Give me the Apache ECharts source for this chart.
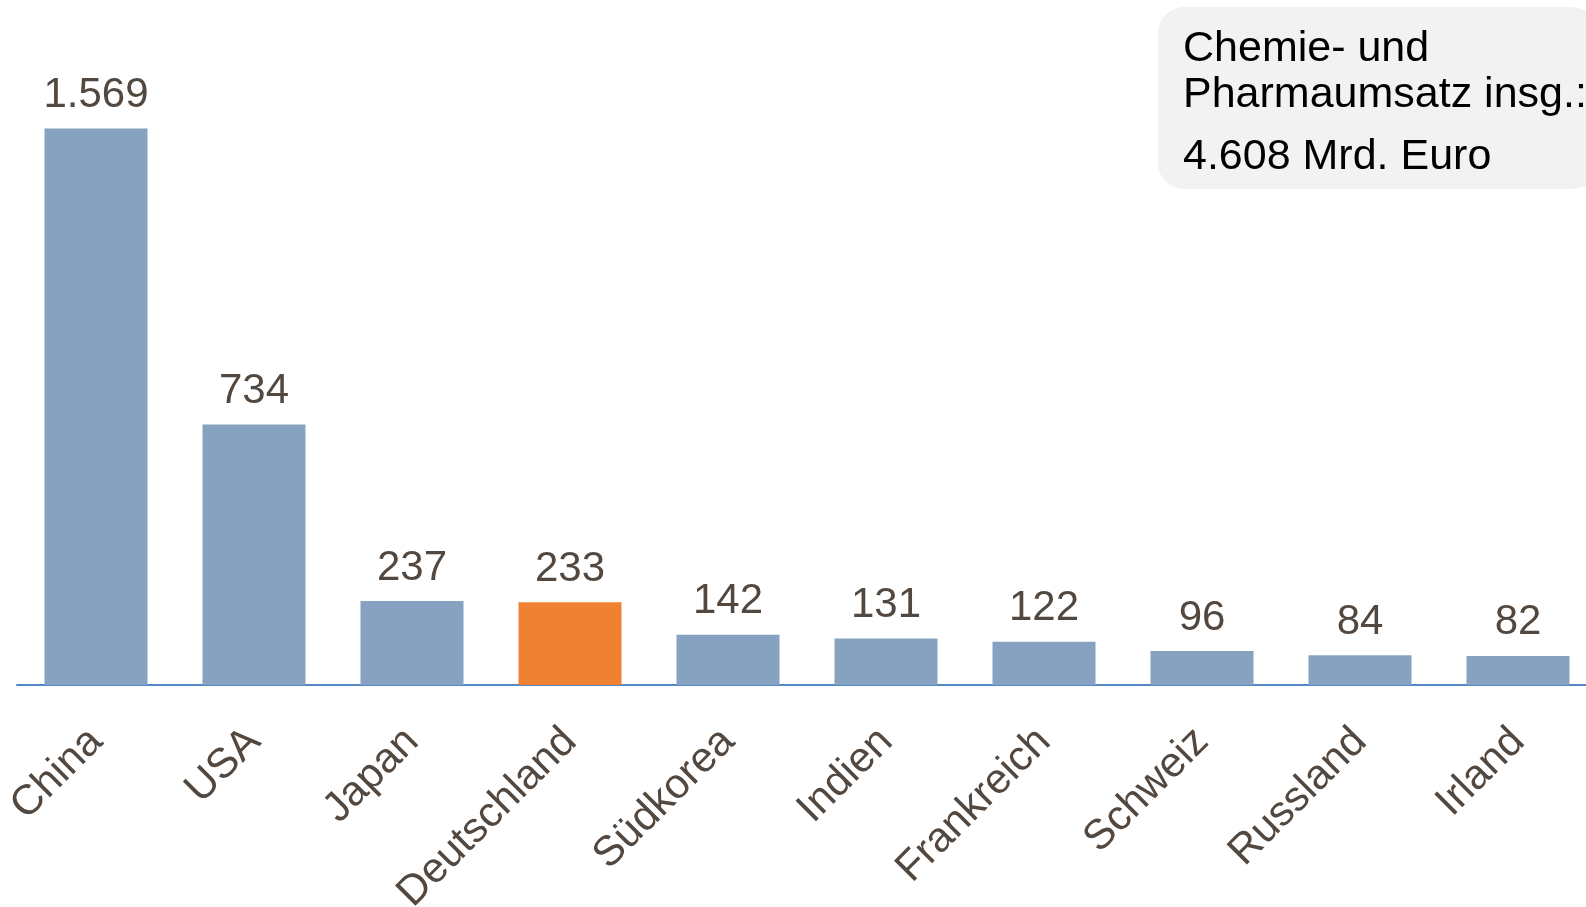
<!DOCTYPE html>
<html>
<head>
<meta charset="utf-8">
<script src="https://cdn.jsdelivr.net/npm/echarts@6/dist/echarts.min.js"></script>
<style>
  html, body { margin: 0; padding: 0; background: #fff; }
  #chart { width: 1586px; height: 907px; }
</style>
</head>
<body>
<div id="chart"></div>
<script>
// Länder und Umsatz (Mrd. Euro)
var laender = ["China", "USA", "Japan", "Deutschland", "Südkorea", "Indien", "Frankreich", "Schweiz", "Russland", "Irland"];
var umsatz = [1569, 734, 237, 233, 142, 131, 122, 96, 84, 82];
var hervorgehoben = "Deutschland";
var infoZeilen = ["Chemie- und", "Pharmaumsatz insg.:", "4.608 Mrd. Euro"];

var schrift = "'Liberation Sans', Arial, sans-serif";
var textFarbe = "#52483f";

// Tausenderpunkt wie im Original
function deutsch(v) {
  return String(v).replace(/\B(?=(\d{3})+(?!\d))/g, ".");
}

var balken = umsatz.map(function (v, i) {
  return {
    value: v,
    itemStyle: { color: laender[i] === hervorgehoben ? "#ef8232" : "#87a2c1" }
  };
});

var chart = echarts.init(document.getElementById("chart"));
chart.setOption({
  animation: false,
  grid: {
    left: 17,
    right: -11,
    top: 0,
    bottom: 222,
    outerBoundsMode: "none"
  },
  xAxis: {
    type: "category",
    data: laender,
    axisLine: { lineStyle: { color: "#5288c4", width: 2 } },
    axisTick: { show: false },
    axisLabel: {
      interval: 0,
      rotate: 45,
      margin: 50,
      color: textFarbe,
      fontSize: 42,
      fontFamily: schrift
    }
  },
  yAxis: {
    type: "value",
    min: 0,
    max: 1931,
    show: false,
    splitLine: { show: false }
  },
  series: [
    {
      type: "bar",
      data: balken,
      barWidth: 103,
      label: {
        show: true,
        position: "top",
        distance: 12,
        color: textFarbe,
        fontSize: 42,
        fontFamily: schrift,
        formatter: function (p) { return deutsch(p.value); }
      }
    }
  ],
  graphic: [
    {
      type: "rect",
      shape: { x: 1158, y: 7, width: 440, height: 182, r: 26 },
      style: { fill: "#f2f2f2" }
    },
    {
      type: "text",
      x: 1183, y: 49,
      style: { text: infoZeilen[0], font: "43px " + schrift, fill: "#000", verticalAlign: "middle" }
    },
    {
      type: "text",
      x: 1183, y: 95,
      style: { text: infoZeilen[1], font: "43px " + schrift, fill: "#000", verticalAlign: "middle" }
    },
    {
      type: "text",
      x: 1183, y: 157,
      style: { text: infoZeilen[2], font: "43px " + schrift, fill: "#000", verticalAlign: "middle" }
    }
  ]
});
</script>
</body>
</html>
